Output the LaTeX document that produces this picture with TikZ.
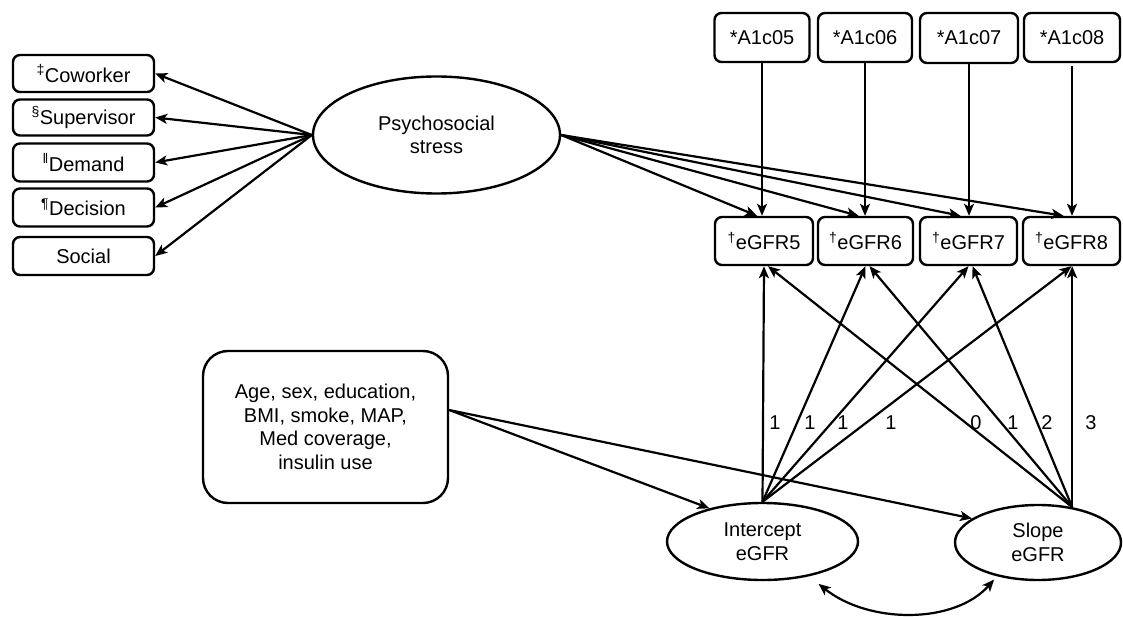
\documentclass[tikz,border=0pt]{standalone}
\usepackage{fontspec}
\setmainfont{Liberation Sans}
\usetikzlibrary{shapes.geometric,arrows.meta}
\begin{document}
\begin{tikzpicture}[x=1pt,y=-1pt,
  every node/.style={font=\fontsize{20}{23.5}\selectfont, inner sep=0pt, align=center},
  obsbox/.style={draw, line width=2.4pt, rounded corners=7pt},
  latent/.style={draw, ellipse, line width=2.4pt},
  arr/.style={line width=2.2pt, -{Stealth[length=12pt,width=10pt,inset=3pt]}},
  darr/.style={line width=2.2pt, {Stealth[length=12pt,width=10pt,inset=3pt]}-{Stealth[length=12pt,width=10pt,inset=3pt]}},
  num/.style={font=\fontsize{20}{23.5}\selectfont}
]
\useasboundingbox (0,0) rectangle (1123,617);
% left indicator boxes
\node[obsbox, minimum width=141pt, minimum height=37pt] (cw) at (83.5,73.5) {\textsuperscript{‡}Coworker};
\node[obsbox, minimum width=141pt, minimum height=36pt] (sv) at (83.5,117.5) {\textsuperscript{§}Supervisor};
\node[obsbox, minimum width=141pt, minimum height=38pt] (dm) at (83.5,162.5) {\textsuperscript{‖}Demand};
\node[obsbox, minimum width=141pt, minimum height=38pt] (dc) at (83.5,207.5) {\textsuperscript{¶}Decision};
\node[obsbox, minimum width=141pt, minimum height=38pt] (so) at (83.5,256) {Social};
% psychosocial stress
\node[latent, minimum width=247pt, minimum height=117pt] (psy) at (436.5,135) {Psychosocial\\stress};
% A1c boxes
\node[obsbox, minimum width=95pt, minimum height=49pt] (a5) at (762,37.5) {*A1c05};
\node[obsbox, minimum width=94pt, minimum height=49pt] (a6) at (865,37.5) {*A1c06};
\node[obsbox, minimum width=98pt, minimum height=50pt] (a7) at (969,38) {*A1c07};
\node[obsbox, minimum width=96pt, minimum height=49pt] (a8) at (1072,37.5) {*A1c08};
% eGFR boxes
\node[obsbox, minimum width=98pt, minimum height=48pt] (e5) at (764,241) {\textsuperscript{†}eGFR5};
\node[obsbox, minimum width=95pt, minimum height=48pt] (e6) at (865.5,241) {\textsuperscript{†}eGFR6};
\node[obsbox, minimum width=97pt, minimum height=48pt] (e7) at (968.5,241) {\textsuperscript{†}eGFR7};
\node[obsbox, minimum width=97pt, minimum height=48pt] (e8) at (1071.5,241) {\textsuperscript{†}eGFR8};
% covariates
\node[draw, line width=2.4pt, rounded corners=25pt, minimum width=245pt, minimum height=152pt] (cov) at (325.5,427) {Age, sex, education,\\BMI, smoke, MAP,\\Med coverage,\\insulin use};
% growth factors
\node[latent, minimum width=191pt, minimum height=77pt] (int) at (762.5,541.5) {Intercept\\eGFR};
\node[latent, minimum width=166pt, minimum height=75pt] (slo) at (1038,542.5) {Slope\\eGFR};
% psychosocial to indicators
\foreach \b in {cw,sv,dm,dc,so} \draw[arr] (psy.west) -- (\b.east);
% psychosocial to eGFR
\draw[arr] (psy.east) -- ([xshift=-7pt]e5.north);
\draw[arr] (psy.east) -- ([xshift=-7pt]e6.north);
\draw[arr] (psy.east) -- ([xshift=-8pt]e7.north);
\draw[arr] (psy.east) -- ([xshift=-8pt]e8.north);
% A1c to eGFR
\draw[arr] (a5.south) -- (e5.north -| a5.south);
\draw[arr] (a6.south) -- (e6.north -| a6.south);
\draw[arr] (a7.south) -- (e7.north -| a7.south);
\draw[arr] ([yshift=-3pt]a8.south) -- (e8.north -| a8.south);
% intercept loadings
\draw[arr] (int.north) -- (e5.south);
\draw[arr] (int.north) -- (e6.south);
\draw[arr] (int.north) -- (e7.south);
\draw[arr] (int.north) -- (e8.south);
% slope loadings
\draw[arr] (slo.46) -- ([xshift=4pt]e5.south);
\draw[arr] (slo.46) -- ([xshift=4pt]e6.south);
\draw[arr] (slo.46) -- ([xshift=4pt]e7.south);
\draw[arr] (slo.46) -- (e8.south -| slo.46);
% covariates to growth factors
\draw[arr] ([yshift=17pt]cov.east) -- (int.148);
\draw[arr] ([yshift=17pt]cov.east) -- (slo.160);
% covariance
\draw[darr] ([yshift=-10pt]int.-30) .. controls +(50,40) and +(-40,45) .. ([yshift=-4pt]slo.-143);
% loading labels
\node[num] (l1) at (775,423) {1};
\node[num] (l2) at (810,423) {1};
\node[num] (l3) at (843,423) {1};
\node[num] (l4) at (891,423) {1};
\node[num] (l5) at (976,423) {0};
\node[num] (l6) at (1013,423) {1};
\node[num] (l7) at (1047,423) {2};
\node[num] (l8) at (1091,423) {3};
\end{tikzpicture}
\end{document}
